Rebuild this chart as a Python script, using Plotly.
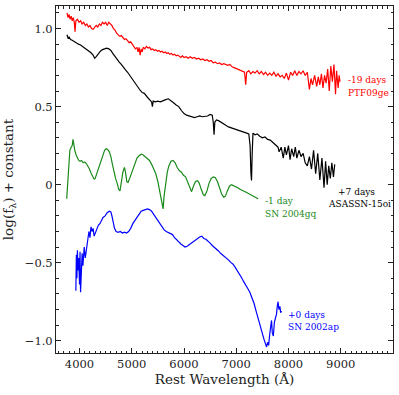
import plotly.graph_objects as go

# ---------------- data ----------------
red_wl = [3760,3780,3800,3820,3840,3860,3880,3900,3915,3930,3960,3990,4020,4050,4080,4110,4140,4170,4200,4230,
          4260,4290,4320,4350,4380,4410,4440,4470,4500,4530,4560,4590,4620,4650,4680,4710,4740,4770,4800,4830,
          4860,4890,4920,4950,4980,5010,5040,5070,5100,5120,5140,5160,5180,5200,5220,5250,5280,5310,5340,5370,
          5400,5430,5460,5490,5520,5550,5580,5610,5640,5670,5700,5730,5760,5790,5820,5850,5880,5910,5940,5970,
          6000,6040,6080,6120,6160,6200,6240,6280,6320,6360,6400,6440,6480,6520,6560,6600,6640,6680,6720,6760,
          6800,6840,6880,6920,6960,7000,7040,7080,7120,7160,7180,7200,7240,7280,7320,7360,7400,7440,7480,7520,
          7560,7600,7640,7680,7720,7760,7800,7840,7880,7920,7960,8000,8040,8080,8120,8160,8200,8240,8280,8320,
          8360,8400,8430,8460,8500,8540,8570,8600,8630,8660,8690,8720,8750,8780,8810,8840,8870,8900,8920,8950,
          8970,8985]
red_flux = [1.10,1.07,1.09,1.06,1.08,1.05,1.07,1.04,0.98,1.05,1.06,1.04,1.05,1.03,1.04,1.02,1.03,1.01,1.02,1.00,
            0.995,1.01,1.02,1.01,1.03,1.02,1.04,1.03,1.04,1.02,1.04,1.03,1.02,1.00,0.99,0.97,0.96,0.95,0.955,0.94,
            0.93,0.935,0.92,0.91,0.915,0.90,0.89,0.87,0.88,0.85,0.88,0.83,0.87,0.85,0.88,0.87,0.885,0.875,0.88,0.865,
            0.87,0.86,0.865,0.855,0.86,0.85,0.855,0.845,0.85,0.84,0.845,0.835,0.84,0.83,0.835,0.825,0.83,0.82,0.815,0.825,
            0.815,0.82,0.81,0.82,0.81,0.815,0.805,0.81,0.80,0.805,0.795,0.80,0.79,0.795,0.78,0.785,0.775,0.78,0.77,0.775,
            0.77,0.765,0.77,0.755,0.75,0.745,0.74,0.735,0.73,0.72,0.64,0.72,0.73,0.71,0.725,0.715,0.73,0.71,0.725,0.705,
            0.72,0.70,0.715,0.70,0.72,0.695,0.71,0.69,0.70,0.68,0.715,0.67,0.72,0.70,0.73,0.70,0.725,0.71,0.73,0.70,
            0.72,0.61,0.68,0.64,0.70,0.63,0.69,0.64,0.71,0.62,0.70,0.65,0.74,0.60,0.76,0.66,0.77,0.58,0.73,0.62,
            0.70,0.66]

black_wl = [3760,3780,3800,3830,3860,3900,3940,3980,4020,4060,4100,4140,4180,4220,4260,4290,4320,4360,4400,4440,
            4480,4520,4560,4600,4640,4680,4720,4760,4800,4840,4880,4920,4960,5000,5040,5080,5120,5160,5200,5240,
            5300,5350,5380,5395,5410,5450,5500,5550,5600,5650,5700,5750,5800,5850,5900,5950,6000,6050,6100,6150,
            6200,6250,6300,6350,6400,6450,6500,6540,6560,6575,6590,6620,6660,6700,6750,6800,6850,6900,6950,7000,
            7050,7100,7150,7200,7240,7265,7280,7292,7305,7320,7360,7400,7450,7500,7550,7600,7650,7700,7750,7800,
            7820,7860,7900,7930,7960,8000,8030,8060,8100,8130,8160,8200,8240,8280,8320,8360,8400,8440,8480,8520,
            8560,8600,8640,8680,8710,8740,8770,8800,8830,8860,8885]
black_flux = [0.96,0.94,0.945,0.93,0.925,0.915,0.91,0.90,0.895,0.885,0.875,0.87,0.86,0.845,0.83,0.81,0.82,0.84,0.855,0.865,
              0.87,0.875,0.87,0.86,0.84,0.82,0.80,0.785,0.77,0.75,0.735,0.72,0.70,0.68,0.665,0.645,0.625,0.605,0.59,0.585,
              0.56,0.54,0.53,0.50,0.535,0.53,0.535,0.53,0.54,0.545,0.55,0.54,0.525,0.51,0.50,0.475,0.455,0.445,0.44,0.435,
              0.43,0.435,0.44,0.435,0.44,0.44,0.45,0.445,0.40,0.32,0.40,0.415,0.41,0.40,0.39,0.38,0.37,0.365,0.36,0.355,
              0.35,0.34,0.335,0.33,0.325,0.25,0.08,0.026,0.20,0.33,0.32,0.325,0.31,0.30,0.305,0.29,0.285,0.27,0.26,0.24,
              0.21,0.24,0.17,0.24,0.19,0.25,0.16,0.23,0.18,0.24,0.17,0.22,0.18,0.20,0.14,0.12,0.18,0.10,0.22,0.07,
              0.20,0.03,0.17,-0.02,0.15,0.00,0.12,0.04,0.14,0.05,0.13]

green_wl = [3755,3775,3795,3815,3840,3860,3875,3890,3910,3935,3960,3985,4010,4040,4070,4100,4130,4160,4190,4220,
            4250,4280,4300,4330,4360,4390,4420,4450,4480,4510,4540,4570,4600,4630,4660,4690,4720,4750,4775,4800,
            4830,4860,4880,4905,4930,4960,4990,5020,5060,5100,5140,5180,5220,5260,5300,5340,5380,5420,5460,5500,
            5540,5570,5600,5620,5650,5680,5710,5750,5790,5830,5870,5910,5950,5990,6030,6070,6110,6145,6180,6220,
            6260,6290,6330,6370,6400,6440,6480,6520,6560,6600,6640,6680,6720,6760,6790,6830,6870,6910,6950,6990,
            7030,7070,7110,7150,7200,7250,7300,7340,7380,7418]
green_flux = [-0.09,0.02,0.14,0.22,0.24,0.25,0.29,0.24,0.22,0.19,0.17,0.155,0.15,0.155,0.14,0.145,0.135,0.12,0.10,0.075,
              0.05,0.035,0.04,0.07,0.10,0.13,0.16,0.20,0.22,0.23,0.225,0.21,0.18,0.13,0.08,0.04,0.01,-0.03,-0.04,0.01,
              0.08,0.11,0.08,0.02,0.015,0.04,0.07,0.10,0.14,0.17,0.185,0.195,0.19,0.18,0.17,0.155,0.13,0.10,0.07,0.02,
              -0.05,-0.11,-0.155,-0.07,0.02,0.08,0.12,0.15,0.155,0.14,0.11,0.09,0.08,0.06,0.05,0.02,-0.02,-0.045,-0.01,0.02,
              0.025,0.01,-0.03,-0.065,-0.07,-0.04,0.01,0.04,0.05,0.045,0.02,-0.02,-0.06,-0.08,-0.075,-0.04,-0.01,0.0,-0.005,-0.01,
              -0.02,-0.03,-0.035,-0.04,-0.05,-0.06,-0.07,-0.075,-0.085,-0.09]

blue_wl = [3930,3940,3950,3960,3970,3985,4000,4010,4020,4035,4050,4065,4080,4090,4110,4140,4160,4180,4200,4220,
           4240,4260,4280,4300,4330,4360,4390,4420,4450,4490,4530,4570,4600,4620,4640,4670,4700,4740,4780,4820,
           4860,4900,4940,4980,5020,5060,5100,5140,5180,5220,5260,5300,5340,5380,5420,5460,5500,5540,5580,5620,
           5660,5700,5740,5780,5820,5860,5900,5940,5980,6020,6060,6100,6140,6180,6220,6260,6300,6340,6380,6420,
           6460,6500,6540,6580,6620,6660,6700,6740,6780,6820,6860,6900,6940,6980,7020,7060,7100,7140,7180,7220,
           7260,7300,7340,7380,7420,7460,7500,7530,7560,7580,7600,7620,7640,7660,7675,7690,7710,7730,7750,7770,
           7785,7800,7815,7835,7850,7865]
blue_flux = [-0.68,-0.45,-0.60,-0.42,-0.55,-0.47,-0.64,-0.43,-0.69,-0.50,-0.44,-0.52,-0.46,-0.40,-0.47,-0.39,-0.33,-0.30,-0.34,-0.27,
             -0.30,-0.28,-0.33,-0.31,-0.28,-0.26,-0.25,-0.23,-0.21,-0.20,-0.18,-0.17,-0.175,-0.20,-0.24,-0.28,-0.30,-0.305,-0.30,-0.31,
             -0.305,-0.31,-0.30,-0.28,-0.25,-0.225,-0.21,-0.19,-0.17,-0.165,-0.16,-0.155,-0.16,-0.17,-0.19,-0.21,-0.23,-0.25,-0.27,-0.29,
             -0.30,-0.305,-0.31,-0.32,-0.34,-0.355,-0.365,-0.38,-0.39,-0.40,-0.395,-0.385,-0.375,-0.36,-0.35,-0.34,-0.335,-0.33,-0.345,-0.35,
             -0.36,-0.375,-0.39,-0.40,-0.41,-0.425,-0.44,-0.45,-0.46,-0.47,-0.485,-0.50,-0.51,-0.53,-0.55,-0.57,-0.595,-0.62,-0.64,-0.665,
             -0.69,-0.72,-0.76,-0.81,-0.86,-0.92,-0.96,-0.99,-1.02,-1.04,-1.01,-1.03,-0.96,-0.90,-0.87,-0.95,-0.97,-0.88,-0.85,-0.83,
             -0.78,-0.75,-0.80,-0.78,-0.82,-0.81]

x_tickvals = [4000, 5000, 6000, 7000, 8000, 9000]
y_tickvals = [-1.0, -0.5, 0.0, 0.5, 1.0]
y_ticktext = ["\u22121.0", "\u22120.5", "0", "0.5", "1.0"]

labels = [
    # (line1, line2, x, y1, y2, colour)
    ("-19 days", "PTF09ge", 9108, 0.671, 0.590, "#ff0000"),
    ("-1 day", "SN 2004gq", 7508, -0.104, -0.187, "#1a8a1a"),
    ("+0 days", "SN 2002ap", 7948, -0.837, -0.911, "#0000ff"),
]
black_label_top = ("+7 days", 8904, -0.049)
black_label_bot = ("ASASSN-15oi", 8726, -0.123)

FONT = "DejaVu Serif"

fig = go.Figure()
for wl, fl, col in [(red_wl, red_flux, "#ff0000"),
                    (black_wl, black_flux, "#000000"),
                    (green_wl, green_flux, "#1a8a1a"),
                    (blue_wl, blue_flux, "#0000ff")]:
    fig.add_trace(go.Scatter(x=wl, y=fl, mode="lines",
                             line=dict(color=col, width=1.2), showlegend=False,
                             hoverinfo="skip"))

annotations = []
for l1, l2, x, y1, y2, col in labels:
    annotations.append(dict(x=x, y=y1, text=l1, xref="x", yref="y", showarrow=False,
                            xanchor="left", yanchor="middle", font=dict(family=FONT, size=9, color=col)))
    annotations.append(dict(x=x, y=y2, text=l2, xref="x", yref="y", showarrow=False,
                            xanchor="left", yanchor="middle", font=dict(family=FONT, size=9, color=col)))
for txt, x, y in [black_label_top, black_label_bot]:
    annotations.append(dict(x=x, y=y, text=txt, xref="x", yref="y", showarrow=False,
                            xanchor="left", yanchor="middle", font=dict(family=FONT, size=9, color="#000000")))

axis_common = dict(
    showline=True, linecolor="#222222", linewidth=1, mirror="allticks",
    ticks="inside", ticklen=5, tickwidth=0.8, tickcolor="#222222",
    showgrid=False, zeroline=False, automargin=False,
    tickfont=dict(family=FONT, size=11.5, color="#222222"),
)

fig.update_layout(
    width=399, height=395,
    margin=dict(l=56, r=6, t=6, b=42),
    paper_bgcolor="white", plot_bgcolor="white",
    font=dict(family=FONT, color="#222222"),
    annotations=annotations,
    xaxis=dict(range=[3550, 10000], tickvals=x_tickvals,
               minor=dict(dtick=100, tick0=0, ticks="inside", ticklen=2.5, tickcolor="#222222", tickwidth=0.6),
               title=dict(text="Rest Wavelength (\u00c5)", font=dict(family=FONT, size=13.5, color="#222222"), standoff=4),
               **axis_common),
    yaxis=dict(range=[-1.0787, 1.1446], tickvals=y_tickvals, ticktext=y_ticktext,
               minor=dict(dtick=0.1, tick0=0, ticks="inside", ticklen=2.5, tickcolor="#222222", tickwidth=0.6),
               title=dict(text="log(f<sub>\u03bb</sub>) + constant", font=dict(family=FONT, size=13.5, color="#222222"), standoff=10),
               **axis_common),
)

fig.write_html("out.html", config={"displayModeBar": False},
               post_script="document.body.style.margin='0';document.body.style.padding='0';")
